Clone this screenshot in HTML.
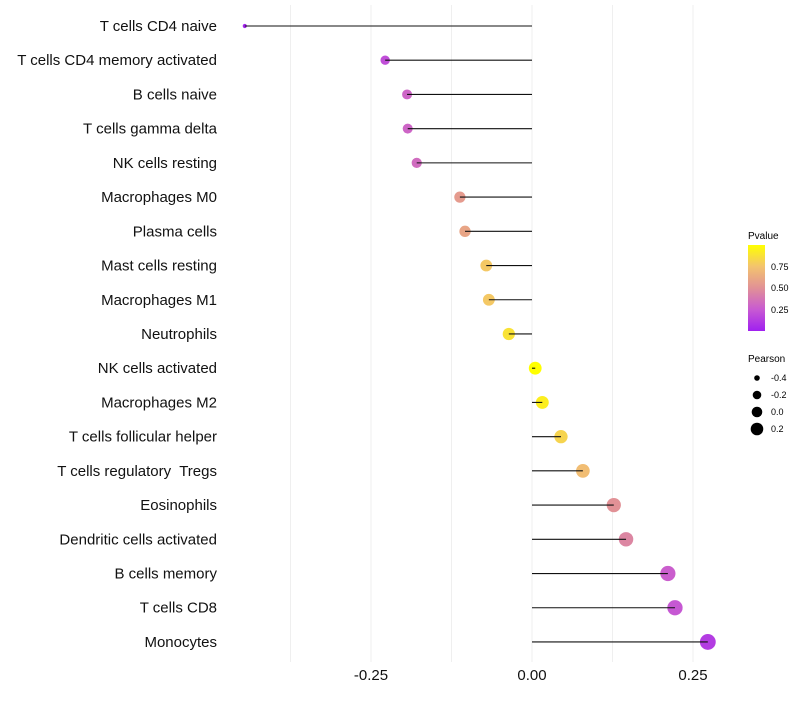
<!DOCTYPE html>
<html><head><meta charset="utf-8"><style>
body{margin:0;background:#fff;font-family:"Liberation Sans",sans-serif}
</style></head><body>
<svg id="c" width="800" height="700" xmlns="http://www.w3.org/2000/svg">
<defs><linearGradient id="pg" x1="0" y1="1" x2="0" y2="0">
<stop offset="0" stop-color="#A020F0"/><stop offset="0.25" stop-color="#C85AD2"/><stop offset="0.5" stop-color="#E19196"/><stop offset="0.75" stop-color="#F3C36E"/><stop offset="1" stop-color="#FFFF00"/>
</linearGradient></defs>
<g id="grid"></g><g id="marks"></g><g id="labels"></g>
<g font-size="9">
<text x="748" y="239" font-size="10">Pvalue</text>
<rect x="748" y="245" width="17" height="86" fill="url(#pg)"/>
<text x="771" y="270">0.75</text>
<text x="771" y="291">0.50</text>
<text x="771" y="313">0.25</text>
</g>
<g font-size="9">
<text x="748" y="362" font-size="10">Pearson</text>
<circle cx="757" cy="378" r="2.8"/><text x="771" y="381">-0.4</text>
<circle cx="757" cy="395" r="4.3"/><text x="771" y="398">-0.2</text>
<circle cx="757" cy="412" r="5.3"/><text x="771" y="415">0.0</text>
<circle cx="757" cy="429" r="6.3"/><text x="771" y="432">0.2</text>
</g>
</svg>
<script>
const categories=["T cells CD4 naive","T cells CD4 memory activated","B cells naive","T cells gamma delta","NK cells resting","Macrophages M0","Plasma cells","Mast cells resting","Macrophages M1","Neutrophils","NK cells activated","Macrophages M2","T cells follicular helper","T cells regulatory  Tregs","Eosinophils","Dendritic cells activated","B cells memory","T cells CD8","Monocytes"];
const pearson=[-0.446,-0.228,-0.194,-0.193,-0.179,-0.112,-0.104,-0.071,-0.067,-0.036,0.005,0.016,0.045,0.079,0.127,0.146,0.211,0.222,0.273];
const pvalues=[0.02,0.2,0.3,0.3,0.33,0.55,0.6,0.77,0.77,0.88,1.0,0.93,0.82,0.72,0.5,0.45,0.27,0.24,0.12];
const xTicks=[-0.25,0,0.25];
const xTickLabels=["-0.25","0.00","0.25"];
const xGrid=[-0.375,-0.25,-0.125,0,0.125,0.25];
const NS="http://www.w3.org/2000/svg";
const x=v=>532+v*644;
const y=i=>26+i*34.22;
const r=v=>Math.sqrt(Math.max(0,(v+0.5)))*9;
const stops=[[0,[160,32,240]],[0.25,[200,90,210]],[0.5,[225,145,150]],[0.75,[243,195,110]],[1,[255,255,0]]];
function col(p){for(let k=1;k<stops.length;k++){if(p<=stops[k][0]){const a=stops[k-1],b=stops[k];const t=(p-a[0])/(b[0]-a[0]);return 'rgb('+a[1].map((c,j)=>Math.round(c+(b[1][j]-c)*t))+')';}}return 'rgb(255,255,0)';}
function mk(t,a,parent){const e=document.createElementNS(NS,t);for(const k in a)e.setAttribute(k,a[k]);parent.appendChild(e);return e;}
const grid=document.getElementById('grid'),marks=document.getElementById('marks'),labels=document.getElementById('labels');
xGrid.forEach(v=>{const l=mk('line',{x1:x(v),x2:x(v),y1:5,y2:662,stroke:'#efefef','stroke-width':1},grid);

});
categories.forEach((c,i)=>{
const cy=y(i);
const ci=mk('circle',{cx:x(pearson[i]),cy:cy,r:r(pearson[i]),fill:col(pvalues[i])},marks);


const ln=mk('line',{x1:x(0),x2:x(pearson[i]),y1:cy,y2:cy,stroke:'#111','stroke-width':1.1},marks);


const t=mk('text',{x:217,y:cy+5,'text-anchor':'end','font-size':15,fill:'#111',style:'white-space:pre'},labels);
t.textContent=c;


});
xTicks.forEach((v,i)=>{const t=mk('text',{x:x(v),y:680,'text-anchor':'middle','font-size':15,fill:'#111'},labels);
t.textContent=xTickLabels[i];

});
</script>
</body></html>
